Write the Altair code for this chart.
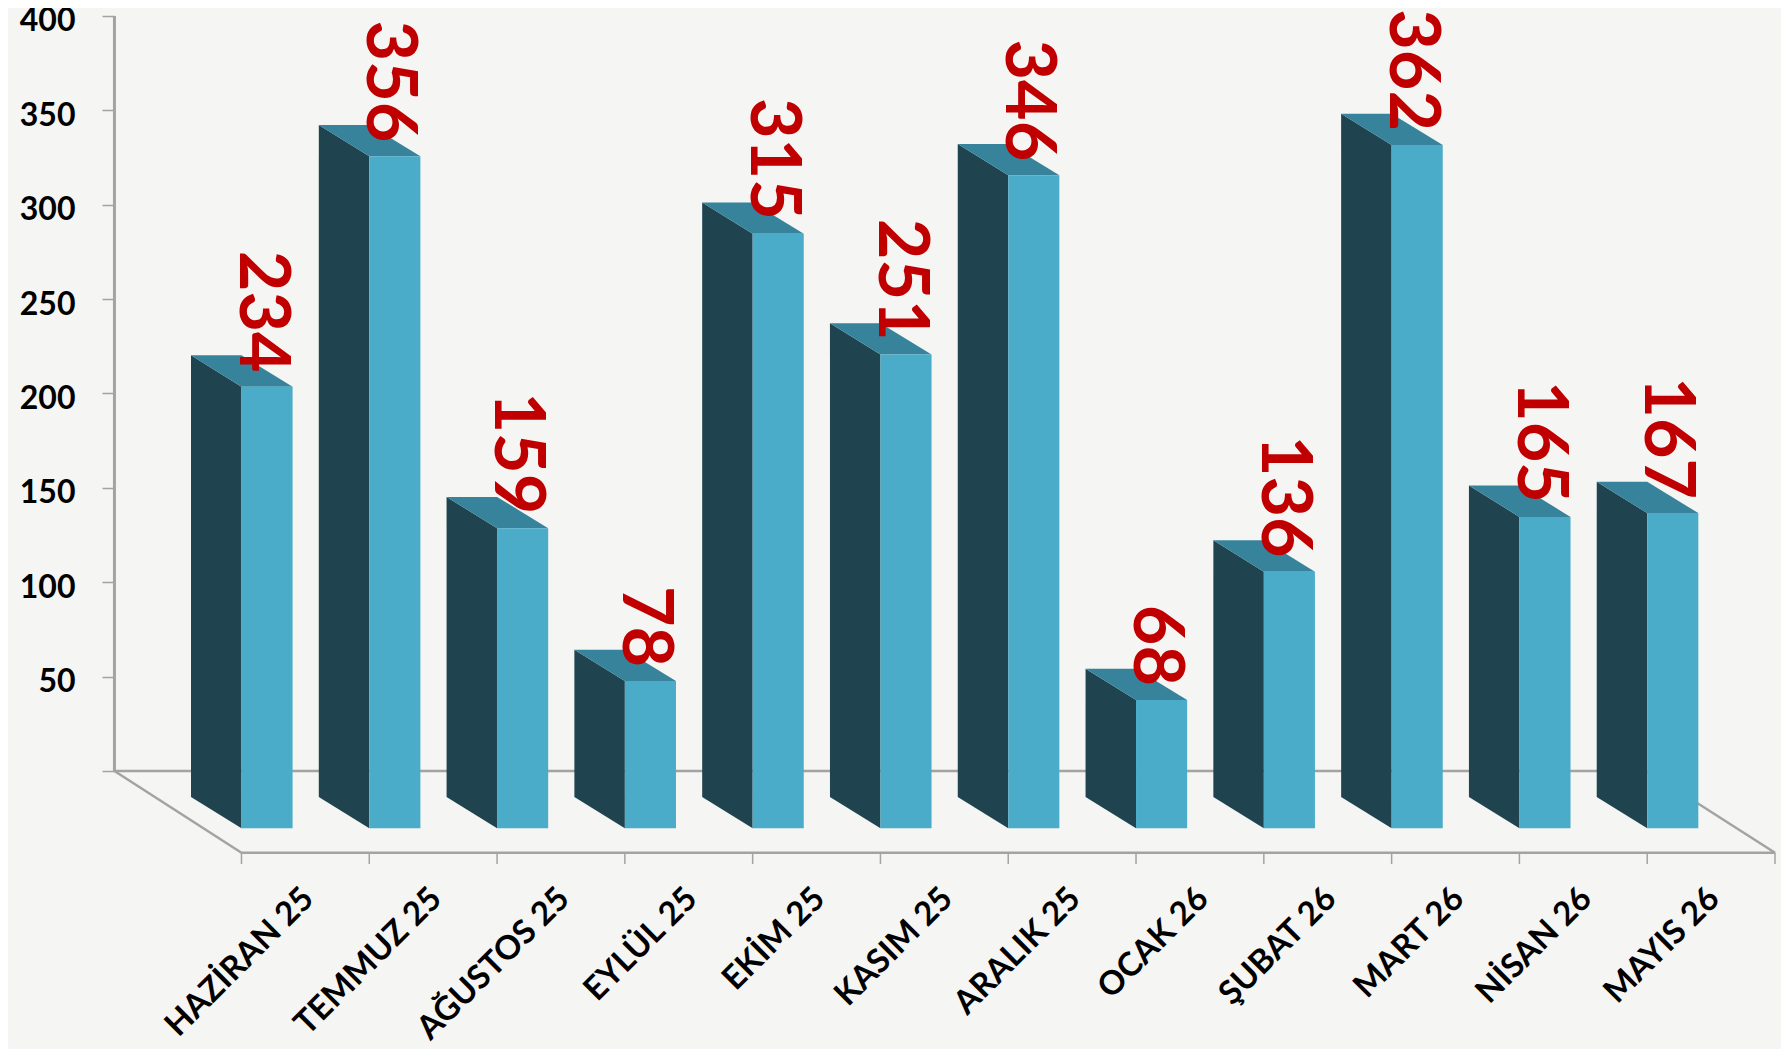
import altair as alt
import pandas as pd

months = ["HAZİRAN 25", "TEMMUZ 25", "AĞUSTOS 25", "EYLÜL 25", "EKİM 25", "KASIM 25",
          "ARALIK 25", "OCAK 26", "ŞUBAT 26", "MART 26", "NİSAN 26", "MAYIS 26"]
values = [234, 356, 159, 78, 315, 251, 346, 68, 136, 362, 165, 167]
y_ticks = [0, 50, 100, 150, 200, 250, 300, 350, 400]

# projection of the pseudo-3D box, in data units
BAR_W = 0.40
BAR_D = 0.395
BACK_SHIFT = -13.8
FRONT_SHIFT = -30.4
FLOOR_FRONT = -43.3
WALL = -0.994

FRONT, SIDE, TOP = "#4aacc8", "#1f444f", "#37839b"
LINE = "#a3a3a3"

xs = alt.Scale(domain=[-1.827, 12.047], nice=False, zero=False)
ys = alt.Scale(domain=[-147.3, 404.2], nice=False, zero=False)
y_axis_def = alt.Axis(
    values=y_ticks, title=None, domain=False, grid=False, offset=-106.5,
    tickSize=12.5, tickColor=LINE, tickWidth=1.5, labelPadding=27, labelOffset=5,
    labelExpr="datum.value == 0 ? '' : datum.label",
    labelFont="Lato", labelFontSize=32, labelFontWeight="bold", labelColor="#000000")
X = lambda f="x": alt.X(f"{f}:Q", scale=xs, axis=None)
Y = lambda f="y": alt.Y(f"{f}:Q", scale=ys, axis=y_axis_def, stack=None)

front, side, top = [], [], []
for i, (m, v) in enumerate(zip(months, values)):
    bv, fv = v + BACK_SHIFT, v + FRONT_SHIFT
    front.append(dict(x=i, x2=i + BAR_W, y=fv, y2=FRONT_SHIFT, m=m))
    side += [dict(x=i - BAR_D, y=bv, y2=BACK_SHIFT, m=m), dict(x=i, y=fv, y2=FRONT_SHIFT, m=m)]
    top += [dict(x=i - BAR_D, y=bv, y2=bv, m=m), dict(x=i, y=bv, y2=fv, m=m), dict(x=i + BAR_W, y=fv, y2=fv, m=m)]

wall = alt.Chart(pd.DataFrame([dict(x=WALL, y=0, y2=400)])).mark_rule(color=LINE, strokeWidth=3).encode(
    x=X(), y=Y(), y2="y2:Q")

floor_lines = pd.DataFrame([
    dict(g="back", x=WALL, y=0), dict(g="back", x=11, y=0),
    dict(g="left", x=WALL, y=0), dict(g="left", x=0, y=FLOOR_FRONT),
    dict(g="front", x=0, y=FLOOR_FRONT), dict(g="front", x=12, y=FLOOR_FRONT),
    dict(g="right", x=11, y=0), dict(g="right", x=12, y=FLOOR_FRONT),
])
floor = alt.Chart(floor_lines).mark_line(color=LINE, strokeWidth=2.5).encode(
    x=X(), y=Y(), detail="g:N", order="x:Q")

x_ticks = alt.Chart(pd.DataFrame({"x": list(range(13)), "y": [FLOOR_FRONT] * 13, "y2": [-49.3] * 13})).mark_rule(
    color=LINE, strokeWidth=1.5).encode(x=X(), y=Y(), y2="y2:Q")

side_l = alt.Chart(pd.DataFrame(side)).mark_area(color=SIDE, orient="vertical", opacity=1).encode(
    x=X(), y=Y(), y2="y2:Q", detail="m:N")
top_l = alt.Chart(pd.DataFrame(top)).mark_area(color=TOP, orient="vertical", opacity=1).encode(
    x=X(), y=Y(), y2="y2:Q", detail="m:N")
front_l = alt.Chart(pd.DataFrame(front)).mark_rect(color=FRONT).encode(
    x=X(), x2="x2:Q", y=Y(), y2="y2:Q")

val_df = pd.DataFrame([dict(x=i + BAR_W / 2 - 0.05, y=v - 23, t=str(v)) for i, v in enumerate(values)])
val_l = alt.Chart(val_df).mark_text(
    angle=90, align="right", baseline="middle", font="Lato", fontSize=70, fontWeight="bold", color="#c00000"
).encode(x=X(), y=Y(), text="t:N")

lab_df = pd.DataFrame([dict(x=i + 0.525, y=-65, t=m) for i, m in enumerate(months)])
lab_l = alt.Chart(lab_df).mark_text(
    angle=315, align="right", baseline="middle", font="Lato", fontSize=33, fontWeight="bold", color="#000000"
).encode(x=X(), y=Y(), text="t:N")

chart = alt.layer(wall, floor, x_ticks, side_l, top_l, front_l, val_l, lab_l).properties(
    width=1773, height=1041, padding=0, background="#f5f5f3",
    autosize=alt.AutoSizeParams(type="none"),
).configure_view(stroke=None)

chart.save("out.html", embed_options={"renderer": "svg", "actions": False})
